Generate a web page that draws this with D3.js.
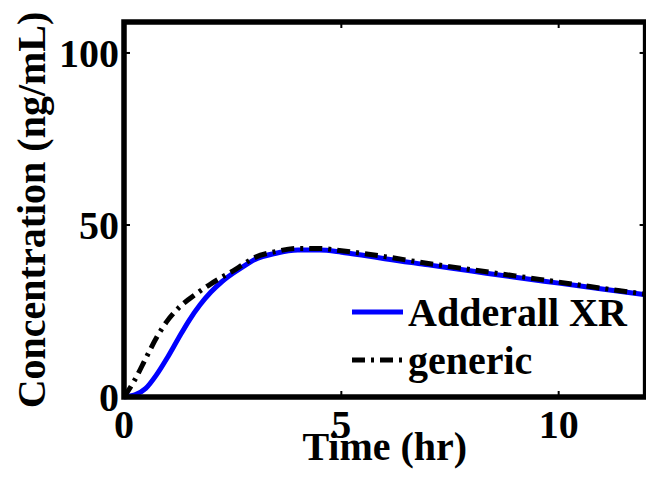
<!DOCTYPE html>
<html>
<head>
<meta charset="utf-8">
<script src="https://cdn.jsdelivr.net/npm/d3@7"></script>
<style>
  html, body { margin: 0; padding: 0; background: #fff; }
  svg { display: block; }
  text { font-family: "Liberation Serif", "Times New Roman", serif; font-weight: bold; fill: #000; }
</style>
</head>
<body>
<svg id="chart" width="646" height="485"></svg>
<script>
// Plasma concentration over time for two formulations
const timeHr = [0, 0.25, 0.5, 0.75, 1.0, 1.25, 1.5, 1.75, 2.0, 2.25, 2.5, 2.75, 3.0, 3.5, 4.0, 4.5, 5.0, 5.5, 6.0, 7.0, 8.0, 9.0, 10.0, 11.0, 12.0];
const adderallXR = [0, 0.6, 2.5, 6.5, 11.5, 17, 22.3, 26.8, 30.5, 33.5, 35.9, 38.0, 39.9, 41.8, 42.7, 42.7, 42.1, 41.2, 40.2, 38.4, 36.6, 34.8, 33.1, 31.4, 29.7];
const generic    = [0, 5, 11.2, 17.3, 22.2, 25.8, 28.5, 30.8, 32.9, 34.8, 36.6, 38.6, 40.5, 42.3, 43.2, 43.2, 42.5, 41.7, 40.8, 38.8, 37.0, 35.2, 33.4, 31.6, 29.9];

const xTicks = [0, 5, 10];
const yTicks = [0, 50, 100];
const xDomain = [0, 12];
const yDomain = [0, 109];

const seriesNames = ["Adderall XR", "generic"];
const seriesColors = ["#0000ff", "#000000"];
const seriesDash = [null, "13,6,3,6"];

const svg = d3.select("#chart");
const plotLeft = 124, plotRight = 645.6, plotTop = 22, plotBottom = 397;

const x = d3.scaleLinear().domain(xDomain).range([plotLeft, plotRight]);
const y = d3.scaleLinear().domain(yDomain).range([plotBottom, plotTop]);

// Tick marks (inward on all four sides)
const tickLen = 6;
const ticks = svg.append("g").attr("stroke", "#000").attr("stroke-width", 2);
xTicks.forEach(t => {
  ticks.append("line").attr("x1", x(t)).attr("x2", x(t)).attr("y1", plotBottom).attr("y2", plotBottom - tickLen);
  ticks.append("line").attr("x1", x(t)).attr("x2", x(t)).attr("y1", plotTop).attr("y2", plotTop + tickLen);
});
yTicks.forEach(v => {
  ticks.append("line").attr("x1", plotLeft).attr("x2", plotLeft + tickLen).attr("y1", y(v)).attr("y2", y(v));
  ticks.append("line").attr("x1", plotRight).attr("x2", plotRight - tickLen).attr("y1", y(v)).attr("y2", y(v));
});

// Tick labels
svg.append("g").selectAll("text").data(xTicks).join("text")
  .attr("x", d => x(d)).attr("y", 438)
  .attr("text-anchor", "middle").attr("font-size", 40)
  .text(d => d);
svg.append("g").selectAll("text").data(yTicks).join("text")
  .attr("x", 119).attr("y", d => y(d) + 14)
  .attr("text-anchor", "end").attr("font-size", 40)
  .text(d => d);

// Data lines
const line = d3.line().x(d => x(d[0])).y(d => y(d[1])).curve(d3.curveMonotoneX);
[adderallXR, generic].forEach((vals, i) => {
  const p = svg.append("path")
    .datum(timeHr.map((t, j) => [t, vals[j]]))
    .attr("d", line)
    .attr("fill", "none")
    .attr("stroke", seriesColors[i])
    .attr("stroke-width", 5);
  if (seriesDash[i]) p.attr("stroke-dasharray", seriesDash[i]);
});

// Axes box
svg.append("rect")
  .attr("x", plotLeft).attr("y", plotTop)
  .attr("width", plotRight - plotLeft).attr("height", plotBottom - plotTop)
  .attr("fill", "none").attr("stroke", "#000").attr("stroke-width", 5.5);

// Axis titles
svg.append("text")
  .attr("x", (plotLeft + plotRight) / 2).attr("y", 460)
  .attr("text-anchor", "middle").attr("font-size", 40)
  .text("Time (hr)");
svg.append("text")
  .attr("transform", "translate(45,210) rotate(-90)")
  .attr("text-anchor", "middle").attr("font-size", 40)
  .text("Concentration (ng/mL)");

// Legend
const legendY = [312, 360];
seriesNames.forEach((name, i) => {
  const l = svg.append("line")
    .attr("x1", 352).attr("x2", 403)
    .attr("y1", legendY[i]).attr("y2", legendY[i])
    .attr("stroke", seriesColors[i]).attr("stroke-width", 5);
  if (seriesDash[i]) l.attr("stroke-dasharray", seriesDash[i]);
  svg.append("text")
    .attr("x", 408).attr("y", legendY[i] + 14)
    .attr("font-size", 40)
    .text(name);
});
</script>
</body>
</html>
